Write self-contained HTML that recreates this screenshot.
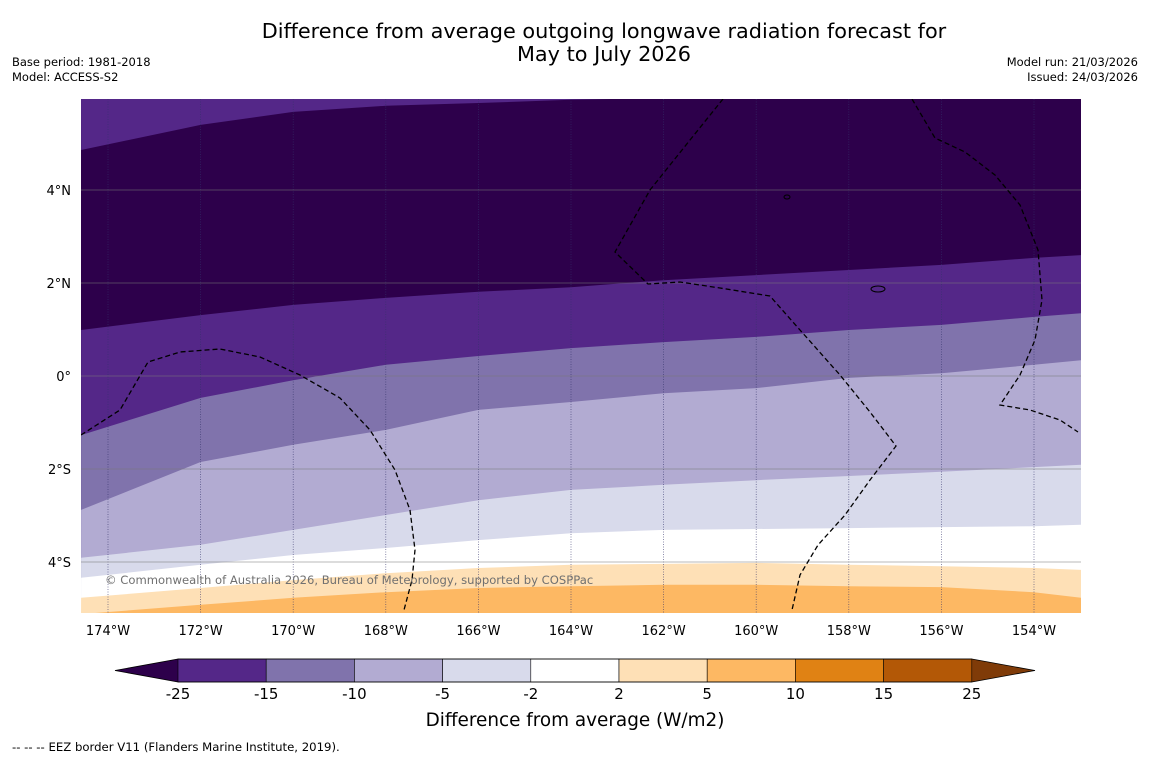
<!DOCTYPE html>
<html><head><meta charset="utf-8"><style>
html,body{margin:0;padding:0;background:#fff;}
body{width:1150px;height:758px;overflow:hidden;font-family:"Liberation Sans","DejaVu Sans",sans-serif;}
</style></head><body>
<svg id="chart" width="1150" height="758" xmlns="http://www.w3.org/2000/svg" font-family="DejaVu Sans, Liberation Sans, sans-serif">
<rect width="1150" height="758" fill="#fff"/>
<text x="604" y="38" font-size="20.8" text-anchor="middle">Difference from average outgoing longwave radiation forecast for</text>
<text x="604" y="61" font-size="20.8" text-anchor="middle">May to July 2026</text>
<text x="12" y="66" font-size="11.5">Base period: 1981-2018</text>
<text x="12" y="81" font-size="11.5">Model: ACCESS-S2</text>
<text x="1138" y="66" font-size="11.5" text-anchor="end">Model run: 21/03/2026</text>
<text x="1138" y="81" font-size="11.5" text-anchor="end">Issued: 24/03/2026</text>
<defs><clipPath id="mapclip"><rect x="81" y="99" width="1000" height="514"/></clipPath></defs>
<g id="map" clip-path="url(#mapclip)"></g>
<g id="axes"></g>
<g id="cbar"></g>
<text x="575" y="726" font-size="18.4" text-anchor="middle">Difference from average (W/m2)</text>
<text x="12" y="751" font-size="11.7">--  --  -- EEZ border V11 (Flanders Marine Institute, 2019).</text>
</svg>
<script>
const lons = [-174.58,-172,-170,-168,-166,-164,-162,-160,-158,-156,-154,-152.98];
const topBand = [4.86,5.40,5.68,5.81,5.87,5.94,5.98,6.0,6.0,6.0,6.0,6.0];
const bNeg25 = [0.99,1.31,1.53,1.68,1.81,1.91,2.06,2.17,2.28,2.39,2.54,2.60];
const bNeg15 = [-1.27,-0.47,-0.09,0.24,0.43,0.60,0.73,0.84,0.99,1.10,1.27,1.35];
const bNeg10 = [-2.88,-1.85,-1.48,-1.16,-0.73,-0.56,-0.37,-0.26,-0.04,0.06,0.24,0.34];
const bNeg5 = [-3.91,-3.63,-3.31,-2.99,-2.67,-2.45,-2.34,-2.24,-2.15,-2.06,-1.96,-1.91];
const bNeg2 = [-4.34,-4.06,-3.85,-3.70,-3.53,-3.38,-3.31,-3.29,-3.27,-3.25,-3.23,-3.20];
const bPos2 = [-4.77,-4.56,-4.39,-4.24,-4.13,-4.06,-4.04,-4.02,-4.06,-4.09,-4.13,-4.17];
const bPos5 = [-5.12,-4.92,-4.77,-4.65,-4.56,-4.52,-4.49,-4.49,-4.52,-4.54,-4.65,-4.77];
const lonTicks = [-174,-172,-170,-168,-166,-164,-162,-160,-158,-156,-154];
const latTicks = [4,2,0,-2,-4];
const cbLevels = ["-25","-15","-10","-5","-2","2","5","10","15","25"];
const cbColors = ["#542788","#8073ac","#b2abd2","#d8daeb","#ffffff","#fee0b6","#fdb863","#e08214","#b35806"];

const NS="http://www.w3.org/2000/svg";
const xS = lon => 108 + (lon + 174) * 46.3;
const yS = lat => 376 - lat * 46.5;
function mk(tag, attrs, parent){const e=document.createElementNS(NS,tag);for(const k in attrs)e.setAttribute(k,attrs[k]);parent.appendChild(e);return e;}
const map=document.getElementById('map');
mk('rect',{x:81,y:99,width:1000,height:514,fill:'#2d004b'},map);
function lineStr(arr){return arr.map((v,i)=>xS(lons[i]).toFixed(1)+','+yS(v).toFixed(1)).join(' ');}
let tp=mk('polygon',{points:lineStr(topBand)+' 1081,90 81,90',fill:'#542788'},map);


const bands=[[bNeg25,'#542788','band-neg25-neg15'],[bNeg15,'#8073ac','band-neg15-neg10'],[bNeg10,'#b2abd2','band-neg10-neg5'],[bNeg5,'#d8daeb','band-neg5-neg2'],[bNeg2,'#ffffff','band-neg2-pos2'],[bPos2,'#fee0b6','band-pos2-pos5'],[bPos5,'#fdb863','band-pos5-pos10']];
bands.forEach(b=>{
  const p=mk('polygon',{points:lineStr(b[0])+' 1081,620 81,620',fill:b[1]},map);
  
  
});
lonTicks.forEach(l=>{
  const g=mk('line',{x1:xS(l),x2:xS(l),y1:99,y2:613,stroke:'#33336a','stroke-width':0.7,'stroke-dasharray':'1,1.5','stroke-opacity':0.8},map);
  
  
});
latTicks.forEach(l=>{
  const g=mk('line',{x1:81,x2:1081,y1:yS(l),y2:yS(l),stroke:'#777','stroke-width':0.8,'stroke-opacity':0.7},map);
  
  
});
const eez=["M81,435 L120,410 L148,362 L180,352 L220,349 L260,357 L300,375 L340,398 L370,430 L395,470 L410,510 L415,550 L412,580 L404,610",
"M723,99 L690,140 L650,190 L615,252 L648,284 L680,282 L720,288 L770,296 L800,330 L840,375 L870,412 L896,446 L870,480 L845,515 L818,545 L800,575 L792,610",
"M912,99 L935,138 L965,152 L995,175 L1020,205 L1038,250 L1042,300 L1035,340 L1020,375 L1000,405 L1030,410 L1060,420 L1078,432"];
eez.forEach(d=>{
  const p=mk('path',{d:d,fill:'none',stroke:'#000','stroke-width':1.3,'stroke-dasharray':'5,3'},map);
  
  
});
const isl=mk('ellipse',{cx:878,cy:289,rx:7,ry:3,fill:'none',stroke:'#000','stroke-width':1},map);


const isl2=mk('ellipse',{cx:787,cy:197,rx:3,ry:2,fill:'none',stroke:'#000','stroke-width':1},map);


const cp=mk('text',{x:105,y:584,'font-size':11.6,fill:'#707070'},map);
cp.textContent='© Commonwealth of Australia 2026, Bureau of Meteorology, supported by COSPPac';


const axes=document.getElementById('axes');
lonTicks.forEach(l=>{
  const t=mk('text',{x:xS(l),y:635,'font-size':13,'text-anchor':'middle'},axes);
  t.textContent=Math.abs(l)+'°W';
  
  
});
latTicks.forEach(l=>{
  const t=mk('text',{x:71,y:yS(l)+5,'font-size':13,'text-anchor':'end'},axes);
  t.textContent=l===0?'0°':Math.abs(l)+'°'+(l>0?'N':'S');
  
  
});
const cb=document.getElementById('cbar');
const cx0=178, cw=88.2, cy=659, ch=23;
const lt=mk('polygon',{points:`115,670.5 ${cx0},${cy} ${cx0},${cy+ch}`,fill:'#2d004b'},cb);


const re=cx0+cw*cbColors.length;
const rt=mk('polygon',{points:`1035,670.5 ${re},${cy} ${re},${cy+ch}`,fill:'#7f3b08'},cb);


cbColors.forEach((c,i)=>{
  const r=mk('rect',{x:cx0+cw*i,y:cy,width:cw,height:ch,fill:c,stroke:'#000','stroke-width':0.6},cb);
  
  
});
mk('path',{d:`M115,670.5 L${cx0},${cy} L${re},${cy} L1035,670.5 L${re},${cy+ch} L${cx0},${cy+ch} Z`,fill:'none',stroke:'#000','stroke-width':0.8},cb);
cbLevels.forEach((lv,i)=>{
  const t=mk('text',{x:cx0+cw*i,y:699,'font-size':15,'text-anchor':'middle'},cb);
  t.textContent=lv;
  
  
});
</script>
</body></html>
